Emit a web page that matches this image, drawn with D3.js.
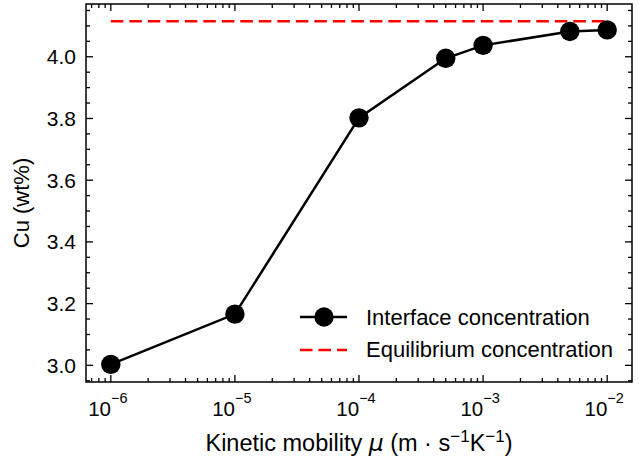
<!DOCTYPE html>
<html>
<head>
<meta charset="utf-8">
<script src="https://cdn.jsdelivr.net/npm/d3@7"></script>
<style>
  body { margin: 0; background: #fff; }
  svg { display: block; font-family: "Liberation Sans", Arial, Helvetica, sans-serif; }
</style>
</head>
<body>
<div id="chart"></div>
<script>
// data
var mobility = [1e-6, 1e-5, 1e-4, 5e-4, 1e-3, 5e-3, 1e-2]
var interfaceCu = [3.003, 3.166, 3.802, 3.995, 4.037, 4.082, 4.087]
var equilibriumCu = 4.115
var equilibriumRange = [1e-6, 1e-2]
var yTicks = [3.0, 3.2, 3.4, 3.6, 3.8, 4.0]
var xTickExponents = [-6, -5, -4, -3, -2]
var legendLabels = ["Interface concentration", "Equilibrium concentration"]

var W = 639, H = 466
var m = {left: 86, top: 4, right: 632, bottom: 382}

var svg = d3.select("#chart").append("svg").attr("width", W).attr("height", H)

var x = d3.scaleLog().domain([Math.pow(10, -6.2), Math.pow(10, -1.8)]).range([m.left, m.right])
var y = d3.scaleLinear().domain([2.946, 4.171]).range([m.bottom, m.top])

var majLen = 7, minLen = 4

// ticks (inward, all four sides)
var ticks = svg.append("g").attr("stroke", "#000").attr("stroke-width", 1.3)
var xMinor = x.ticks().filter(d => {
  var e = Math.log10(d)
  return Math.abs(e - Math.round(e)) > 1e-6
})
var xMajor = xTickExponents.map(e => Math.pow(10, e))
function vTicks(vals, len) {
  vals.forEach(v => {
    ticks.append("line").attr("x1", x(v)).attr("x2", x(v)).attr("y1", m.bottom).attr("y2", m.bottom - len)
    ticks.append("line").attr("x1", x(v)).attr("x2", x(v)).attr("y1", m.top).attr("y2", m.top + len)
  })
}
vTicks(xMinor, minLen)
vTicks(xMajor, majLen)

var yMinor = d3.range(2.95, 4.17, 0.05).filter(v => Math.abs(v * 5 - Math.round(v * 5)) > 1e-6)
function hTicks(vals, len) {
  vals.forEach(v => {
    ticks.append("line").attr("y1", y(v)).attr("y2", y(v)).attr("x1", m.left).attr("x2", m.left + len)
    ticks.append("line").attr("y1", y(v)).attr("y2", y(v)).attr("x1", m.right).attr("x2", m.right - len)
  })
}
hTicks(yMinor, minLen)
hTicks(yTicks, majLen)

// frame
svg.append("rect").attr("x", m.left).attr("y", m.top)
  .attr("width", m.right - m.left).attr("height", m.bottom - m.top)
  .attr("fill", "none").attr("stroke", "#000").attr("stroke-width", 1.5)

// y tick labels
svg.append("g").selectAll("text").data(yTicks).enter().append("text")
  .attr("x", m.left - 10).attr("y", d => y(d)).attr("dy", "0.36em")
  .attr("text-anchor", "end").attr("font-size", 21)
  .text(d => d.toFixed(1))

// x tick labels: 10^e
var xl = svg.append("g").selectAll("text").data(xTickExponents).enter().append("text")
  .attr("x", d => x(Math.pow(10, d)) - 3).attr("y", 416)
  .attr("text-anchor", "middle").attr("font-size", 20.5)
xl.append("tspan").text("10")
xl.append("tspan").attr("dy", -13).attr("font-size", 14.5).text(d => "\u2212" + Math.abs(d))

// axis labels
svg.append("text").attr("transform", "translate(29,203) rotate(-90)")
  .attr("text-anchor", "middle").attr("font-size", 22).text("Cu (wt%)")

var xlab = svg.append("text").attr("x", 359).attr("y", 451)
  .attr("text-anchor", "middle").attr("font-size", 23.5)
xlab.append("tspan").text("Kinetic mobility ")
xlab.append("tspan").attr("font-family", "'DejaVu Sans'").attr("font-style", "italic").text("\u03bc")
xlab.append("tspan").text(" (m \u00b7 s")
xlab.append("tspan").attr("dy", -9).attr("font-size", 17).text("\u22121")
xlab.append("tspan").attr("dy", 9).text("K")
xlab.append("tspan").attr("dy", -9).attr("font-size", 17).text("\u22121")
xlab.append("tspan").attr("dy", 9).text(")")

// equilibrium line
svg.append("line")
  .attr("x1", x(equilibriumRange[0])).attr("x2", x(equilibriumRange[1]))
  .attr("y1", y(equilibriumCu)).attr("y2", y(equilibriumCu))
  .attr("stroke", "#ff0000").attr("stroke-width", 2.6).attr("stroke-dasharray", "12.5,6")

// interface line + markers
var pts = mobility.map((d, i) => ({mu: d, cu: interfaceCu[i]}))
svg.append("path").datum(pts)
  .attr("d", d3.line().x(d => x(d.mu)).y(d => y(d.cu)))
  .attr("fill", "none").attr("stroke", "#000").attr("stroke-width", 2.5)
svg.append("g").selectAll("circle").data(pts).enter().append("circle")
  .attr("cx", d => x(d.mu)).attr("cy", d => y(d.cu)).attr("r", 9.7).attr("fill", "#000")

// legend
var lg = svg.append("g")
lg.append("line").attr("x1", 300).attr("x2", 347).attr("y1", 317).attr("y2", 317)
  .attr("stroke", "#000").attr("stroke-width", 2.5)
lg.append("circle").attr("cx", 324).attr("cy", 317).attr("r", 9.7).attr("fill", "#000")
lg.append("line").attr("x1", 300).attr("x2", 347).attr("y1", 350).attr("y2", 350)
  .attr("stroke", "#ff0000").attr("stroke-width", 2.6).attr("stroke-dasharray", "12.5,6")
lg.selectAll("text").data(legendLabels).enter().append("text")
  .attr("x", 366).attr("y", (d, i) => 317 + i * 32).attr("dy", "0.36em")
  .attr("font-size", 22).text(d => d)
</script>
</body>
</html>
